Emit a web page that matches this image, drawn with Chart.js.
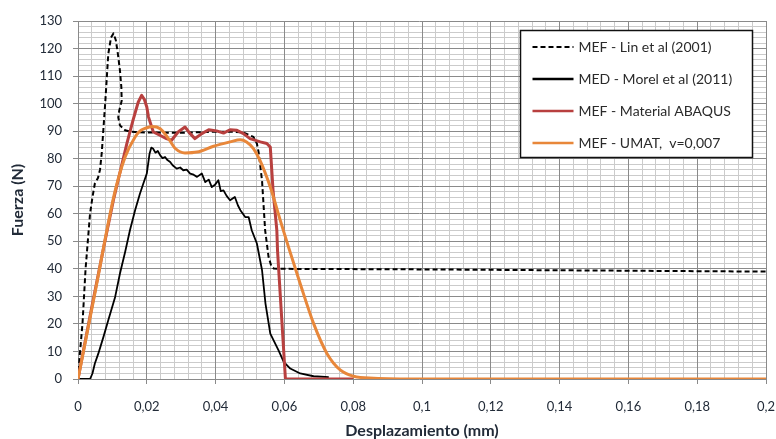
<!DOCTYPE html>
<html>
<head>
<meta charset="utf-8">
<script src="https://cdn.jsdelivr.net/npm/chart.js@4.4.1/dist/chart.umd.min.js"></script>
<style>
  html, body { margin: 0; padding: 0; background: #fff; }
  canvas { display: block; }
</style>
</head>
<body>
<canvas id="fuerza-chart" width="776" height="439"></canvas>
<script>
// MEF - Lin et al (2001)
const linX = [0, 0.0006, 0.0013, 0.0022, 0.0035, 0.0042, 0.0049, 0.0058, 0.0064, 0.0069, 0.0079, 0.0088, 0.0096, 0.0103, 0.0110, 0.0116, 0.0122, 0.0126, 0.0127, 0.0120, 0.0117, 0.0122, 0.0137, 0.0150, 0.0166, 0.02, 0.03, 0.04, 0.045, 0.0481, 0.051, 0.052, 0.0525, 0.0535, 0.0544, 0.0554, 0.0562, 0.0569, 0.06, 0.1, 0.15, 0.2];
const linY = [0, 10, 20, 40, 60, 66, 71, 73, 76, 82, 100, 118, 124, 125.5, 123, 118, 112, 106, 101, 97.5, 95, 92.1, 90.3, 89.9, 89.7, 89.5, 89.4, 89.8, 89.8, 89.5, 87.9, 85.5, 82.4, 72, 54, 44.3, 41, 40.1, 40, 39.8, 39.4, 39];

// MED - Morel et al (2011)
const morelX = [0, 0.0035, 0.0042, 0.0049, 0.0059, 0.0074, 0.0088, 0.0108, 0.0122, 0.0137, 0.0151, 0.0166, 0.018, 0.019, 0.02, 0.0208, 0.0213, 0.0218, 0.0225, 0.0232, 0.0239, 0.0246, 0.0253, 0.026, 0.0268, 0.0275, 0.0287, 0.0297, 0.0306, 0.0316, 0.0326, 0.0336, 0.0346, 0.036, 0.037, 0.038, 0.0389, 0.0398, 0.0408, 0.0415, 0.0423, 0.0432, 0.0442, 0.0456, 0.0465, 0.0472, 0.0486, 0.0496, 0.0505, 0.052, 0.0535, 0.0545, 0.0559, 0.0583, 0.0598, 0.0617, 0.0646, 0.0685, 0.0729];
const morelY = [0, 0, 2, 5.6, 9.2, 15.3, 21.3, 29.8, 38.3, 46.1, 54, 61.3, 67.3, 71, 74.6, 81.8, 84, 83.7, 82.2, 82.8, 81.2, 80.2, 80.6, 79.5, 78.8, 77.6, 76.4, 76.8, 75.8, 76, 74.6, 74.2, 73.4, 74.6, 71.5, 72.4, 69.7, 70.5, 72.2, 68.2, 68.5, 66.5, 64.9, 66.1, 63, 61.3, 58.8, 58.8, 54, 49.2, 39.5, 27.4, 16.5, 10.4, 6.2, 3.8, 2, 1, 0.7];

// MEF - Material ABAQUS
const abaqusX = [0, 0.004, 0.0075, 0.0103, 0.0142, 0.016, 0.0175, 0.0185, 0.0193, 0.02, 0.0205, 0.0219, 0.0238, 0.0257, 0.0272, 0.0291, 0.0311, 0.0326, 0.034, 0.036, 0.038, 0.0403, 0.0423, 0.0442, 0.0462, 0.0481, 0.05, 0.053, 0.0549, 0.0559, 0.0567, 0.0578, 0.058, 0.0603, 0.065, 0.08];
const abaqusY = [0, 26, 48, 65, 85.5, 94, 100.5, 103, 101.5, 98.8, 95.1, 89.7, 88.5, 87.3, 86.7, 89.7, 91.5, 89.1, 87.3, 89.1, 90.5, 90.1, 89.3, 90.5, 90.3, 89.1, 87.3, 86.1, 85.5, 84.2, 68.5, 54, 46.7, 0, 0, 0];

// MEF - UMAT, v=0,007
const umatX = [0, 0.005, 0.0106, 0.0137, 0.0166, 0.018, 0.0195, 0.0215, 0.0239, 0.0263, 0.0283, 0.0311, 0.0346, 0.0394, 0.0442, 0.0472, 0.049, 0.051, 0.0529, 0.0559, 0.0588, 0.0612, 0.0646, 0.0685, 0.0724, 0.0763, 0.0801, 0.086, 0.1, 0.2];
const umatY = [0, 31.7, 67.3, 80.6, 87.9, 90, 91, 91.7, 90.9, 87.3, 83.7, 82.1, 82.4, 84.5, 86.1, 86.9, 86.1, 83.7, 79.4, 69.7, 57.6, 47.9, 34.6, 20.1, 9.2, 3.2, 1, 0.3, 0, 0];

const seriesLabels = ['MEF - Lin et al (2001)', 'MED - Morel et al (2011)', 'MEF - Material ABAQUS', 'MEF - UMAT,  v=0,007'];

function toPoints(xs, ys) {
    return xs.map((x, i) => ({ x: x, y: ys[i] }));
}

const FONT = 'Lato, "Open Sans", sans-serif';
const TEXT = '#222b38';
const MAJOR = '#8a8a8a';
const MINOR = '#cbcbcb';

Chart.defaults.font.family = FONT;
Chart.defaults.font.size = 13;
Chart.defaults.color = TEXT;

const isMajorX = v => Math.abs(v / 0.02 - Math.round(v / 0.02)) < 1e-6;
const isMajorY = v => Math.abs(v / 10 - Math.round(v / 10)) < 1e-6;

// Excel-style grid: light minor lines, darker major lines with short tick marks.
// Drawn from the scales' own ticks (the built-in grid would not show up here).
const paperGrid = {
    id: 'paperGrid',
    beforeDatasetsDraw(chart) {
        const { ctx, chartArea: a, scales } = chart;
        const lines = (scale, test, vertical, major) => {
            ctx.strokeStyle = major ? MAJOR : MINOR;
            ctx.beginPath();
            scale.ticks.forEach(t => {
                if (test(t.value) !== major) return;
                const p = Math.round(scale.getPixelForValue(t.value) - 0.5) + 0.5;
                if (vertical) {
                    ctx.moveTo(p, a.top);
                    ctx.lineTo(p, a.bottom + (major ? 5 : 0));
                } else {
                    ctx.moveTo(a.left - (major ? 5 : 0), p);
                    ctx.lineTo(a.right, p);
                }
            });
            ctx.stroke();
        };
        ctx.save();
        ctx.lineWidth = 1;
        lines(scales.x, isMajorX, true, false);
        lines(scales.y, isMajorY, false, false);
        lines(scales.x, isMajorX, true, true);
        lines(scales.y, isMajorY, false, true);
        ctx.restore();
    }
};

// legend box drawn inside the plot, top right
const boxLegend = {
    id: 'boxLegend',
    afterDraw(chart) {
        const ctx = chart.ctx;
        const area = chart.chartArea;
        const x = area.right - 245.5, y = area.top + 9.5, w = 232, h = 127;
        ctx.save();
        ctx.fillStyle = '#fff';
        ctx.fillRect(x, y, w, h);
        ctx.strokeStyle = '#111';
        ctx.lineWidth = 1.5;
        ctx.strokeRect(x, y, w, h);
        ctx.font = '14px ' + FONT;
        ctx.textBaseline = 'middle';
        chart.data.datasets.forEach((ds, i) => {
            const rowY = y + 16.5 + i * 32;
            ctx.beginPath();
            ctx.setLineDash(ds.borderDash || []);
            ctx.strokeStyle = ds.borderColor;
            ctx.lineWidth = ds.legendWidth;
            ctx.moveTo(x + 12, rowY);
            ctx.lineTo(x + 53, rowY);
            ctx.stroke();
            ctx.setLineDash([]);
            ctx.fillStyle = '#2a2a2a';
            ctx.fillText(ds.label, x + 58, rowY);
        });
        ctx.restore();
    }
};

const ctx = document.getElementById('fuerza-chart').getContext('2d');
new Chart(ctx, {
    type: 'line',
    data: {
        datasets: [{
            label: seriesLabels[0],
            data: toPoints(linX, linY),
            borderColor: '#000',
            borderWidth: 2,
            borderDash: [5, 3],
            legendWidth: 2,
            order: 4
        }, {
            label: seriesLabels[1],
            data: toPoints(morelX, morelY),
            borderColor: '#000',
            borderWidth: 1.8,
            legendWidth: 2.5,
            order: 3
        }, {
            label: seriesLabels[2],
            data: toPoints(abaqusX, abaqusY),
            borderColor: '#b8403f',
            borderWidth: 3,
            legendWidth: 2.5,
            order: 2
        }, {
            label: seriesLabels[3],
            data: toPoints(umatX, umatY),
            borderColor: '#e8873a',
            borderWidth: 3,
            legendWidth: 2.5,
            cubicInterpolationMode: 'monotone',
            order: 1
        }]
    },
    options: {
        responsive: false,
        animation: false,
        elements: {
            point: { radius: 0 },
            line: { tension: 0, borderJoinStyle: 'round' }
        },
        layout: { padding: 0 },
        plugins: {
            legend: { display: false },
            tooltip: { enabled: false }
        },
        scales: {
            x: {
                type: 'linear',
                min: 0,
                max: 0.2,
                // fixed axis band so the plot sits where the original one does
                afterFit: s => { s.height = 60; s.paddingLeft = 0; s.paddingRight = 10; },
                ticks: {
                    stepSize: 0.004,
                    autoSkip: false,
                    maxRotation: 0,
                    padding: 20,
                    callback: v => isMajorX(v) ? String(Math.round(v * 100) / 100).replace('.', ',') : ''
                },
                grid: { drawOnChartArea: false, drawTicks: false },
                border: { display: false },
                title: {
                    display: true,
                    text: 'Desplazamiento (mm)',
                    padding: { top: 0, bottom: 0 },
                    font: { size: 16, weight: 'bold', lineHeight: 1 }
                }
            },
            y: {
                min: 0,
                max: 130,
                afterFit: s => { s.width = 78; s.paddingTop = 21; s.paddingBottom = 0; },
                ticks: {
                    stepSize: 2,
                    autoSkip: false,
                    padding: 16,
                    callback: v => isMajorY(v) ? String(Math.round(v)) : ''
                },
                grid: { drawOnChartArea: false, drawTicks: false },
                border: { display: false },
                title: {
                    display: true,
                    text: 'Fuerza (N)',
                    padding: { top: 8, bottom: 0 },
                    font: { size: 16, weight: 'bold' }
                }
            }
        }
    },
    plugins: [paperGrid, boxLegend]
});
</script>
</body>
</html>
